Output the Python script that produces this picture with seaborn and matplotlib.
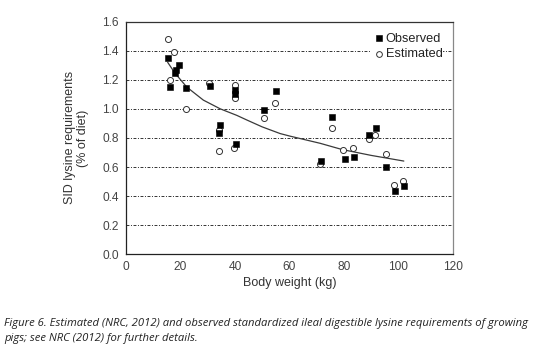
import matplotlib
matplotlib.use("Agg")
import matplotlib.pyplot as plt
import seaborn as sns
import pandas as pd
import numpy as np

obs_weight = [15.3, 16.2, 18.0, 18.3, 19.6, 21.9, 30.8, 34.6, 34.2, 40.2, 40.2, 40.3,
              50.8, 55.1, 71.7, 75.8, 80.3, 83.7, 89.3, 91.8, 95.6, 98.6, 102.1]
obs_lys = [1.35, 1.15, 1.245, 1.267, 1.30, 1.145, 1.157, 0.886, 0.834, 1.13, 1.10, 0.758,
           0.994, 1.122, 0.641, 0.946, 0.653, 0.671, 0.818, 0.868, 0.602, 0.437, 0.469]

est_weight = [15.3, 17.8, 16.0, 21.9, 30.3, 34.2, 34.0, 39.9, 39.9, 39.8, 50.8, 54.8,
              71.2, 75.5, 79.6, 83.2, 89.1, 91.5, 95.6, 98.4, 101.6]
est_lys = [1.478, 1.39, 1.195, 1.0, 1.18, 0.857, 0.708, 1.164, 1.075, 0.731, 0.94, 1.038,
           0.623, 0.868, 0.72, 0.73, 0.795, 0.82, 0.689, 0.476, 0.506]

curve_weight = [15.3, 18.0, 22.3, 28.4, 34.6, 40.7, 44.4, 50.0, 56.6, 60.3, 71.3, 79.4, 90.0, 102.0]
curve_lys = [1.32, 1.245, 1.15, 1.06, 1.0, 0.955, 0.923, 0.876, 0.83, 0.812, 0.763, 0.72, 0.68, 0.641]

x_ticks = [0, 20, 40, 60, 80, 100, 120]
y_ticks = [0.0, 0.2, 0.4, 0.6, 0.8, 1.0, 1.2, 1.4, 1.6]

sns.set_style("white")
plt.rcParams['font.family'] = ['Liberation Sans', 'DejaVu Sans']

obs_df = pd.DataFrame({"weight": obs_weight, "lys": obs_lys})
est_df = pd.DataFrame({"weight": est_weight, "lys": est_lys})
curve_df = pd.DataFrame({"weight": curve_weight, "lys": curve_lys})

fig = plt.figure(figsize=(5.43, 3.5), dpi=100)
ax = fig.add_axes([0.232, 0.2734, 0.602, 0.665])

for y in y_ticks[1:-1]:
    ax.axhline(y, color="#333333", lw=0.7, linestyle=(0, (3, 1.6, 1, 1.6)), zorder=1)

sns.lineplot(data=curve_df, x="weight", y="lys", ax=ax, color="#3a3a3a", lw=0.9, zorder=2)
sns.scatterplot(data=est_df, x="weight", y="lys", ax=ax, marker="o", s=19,
                facecolor="white", edgecolor="#333333", linewidth=0.7, zorder=3,
                label="Estimated")
sns.scatterplot(data=obs_df, x="weight", y="lys", ax=ax, marker="s", s=19,
                color="black", edgecolor="black", linewidth=0.4, zorder=4,
                label="Observed")

ax.set_xlim(0, 120)
ax.set_ylim(0, 1.6)
ax.set_xticks(x_ticks)
ax.set_yticks(y_ticks)
ax.set_yticklabels([f"{v:.1f}" for v in y_ticks])
ax.tick_params(axis="both", width=0.8, labelsize=8.6,
               colors="#333333", labelcolor="#444444", pad=2)
ax.tick_params(axis="x", direction="inout", length=6)
ax.tick_params(axis="y", direction="inout", length=6)
for s in ["left", "bottom"]:
    ax.spines[s].set_color("#222222")
    ax.spines[s].set_linewidth(0.9)
ax.spines["top"].set_color("#333333")
ax.spines["top"].set_linewidth(0.9)
ax.spines["right"].set_color("#888888")
ax.spines["right"].set_linewidth(0.9)

ax.set_xlabel("Body weight (kg)", fontsize=9, color="#333333", labelpad=3)
ax.set_ylabel("SID lysine requirements\n(% of diet)", fontsize=9, color="#333333",
              labelpad=10, linespacing=1.05)

handles, labels = ax.get_legend_handles_labels()
order = [labels.index("Observed"), labels.index("Estimated")]
leg = ax.legend([handles[i] for i in order], [labels[i] for i in order],
                loc="upper right", bbox_to_anchor=(0.97, 0.955), fontsize=9.2,
                frameon=True, framealpha=1, facecolor="white", edgecolor="none",
                handletextpad=0.05, handlelength=1.0, borderpad=0.05,
                labelspacing=0.25, borderaxespad=0.0, markerscale=0.95)
leg.get_frame().set_linewidth(0)
for t in leg.get_texts():
    t.set_color("#222222")

fig.text(0.008, 0.068, "Figure 6. Estimated (NRC, 2012) and observed standardized ileal digestible lysine requirements of growing",
         fontsize=8.15, style="italic", family=["Open Sans", "DejaVu Sans"], color="#222222")
fig.text(0.008, 0.025, "pigs; see NRC (2012) for further details.",
         fontsize=8.15, style="italic", family=["Open Sans", "DejaVu Sans"], color="#222222")

fig.savefig("out.png", dpi=100)
